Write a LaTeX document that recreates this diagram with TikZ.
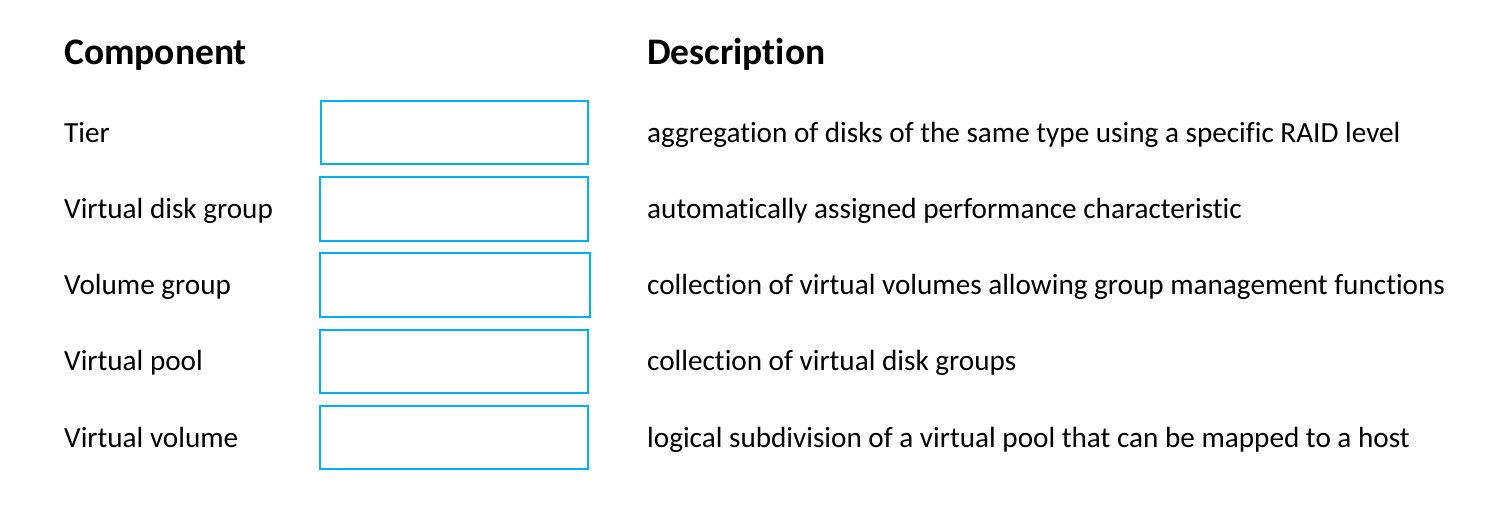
\documentclass[tikz,border=0pt]{standalone}
\usepackage{fontspec}
\setmainfont[Ligatures={NoCommon}]{Carlito}
\definecolor{boxblue}{HTML}{00B0F0}
\tikzset{
  head/.style={anchor=base west, inner sep=0pt, font=\fontsize{37.5}{42}\selectfont\bfseries},
  body/.style={anchor=base west, inner sep=0pt, font=\fontsize{29.2}{34}\selectfont},
  answer/.style={draw=boxblue, line width=2pt}
}
\begin{document}
\begin{tikzpicture}[x=1pt,y=-1pt]
\useasboundingbox (0,0) rectangle (1494,507);
\node[head] (hc) at (64,64) {Component};
\node[head] (hd) at (647,64) {Description};
\node[body] (c1) at (64,142) {Tier};
\node[body] (c2) at (64,218) {Virtual disk group};
\node[body] (c3) at (64,294) {Volume group};
\node[body] (c4) at (64,370) {Virtual pool};
\node[body] (c5) at (64,447) {Virtual volume};
\draw[answer] (321,101) rectangle (588,164);
\draw[answer] (320,177) rectangle (588,241);
\draw[answer] (320,253) rectangle (590,317);
\draw[answer] (320,330) rectangle (588,393);
\draw[answer] (320,406) rectangle (588,469);
\node[body] (d1) at (647,142) {aggregation of disks of the same type using a specific RAID level};
\node[body] (d2) at (647,218) {automatically assigned performance characteristic};
\node[body] (d3) at (647,294) {collection of virtual volumes allowing group management functions};
\node[body] (d4) at (647,370) {collection of virtual disk groups};
\node[body] (d5) at (647,447) {logical subdivision of a virtual pool that can be mapped to a host};
\end{tikzpicture}
\end{document}
